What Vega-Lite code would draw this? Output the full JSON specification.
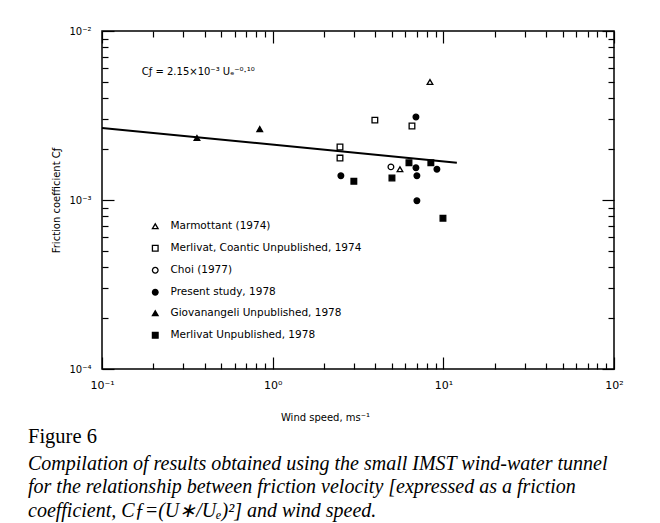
{
  "$schema": "https://vega.github.io/schema/vega-lite/v6.json",
  "width": 512,
  "height": 338,
  "autosize": "none",
  "padding": {"left": 102, "top": 31, "right": 46, "bottom": 154},
  "background": "white",
  "config": {
    "view": {"stroke": "black", "strokeWidth": 1.5},
    "font": "DejaVu Sans"
  },
  "datasets": {
    "fit": [
      {"u": 0.1, "cf": 0.00267},
      {"u": 12.0, "cf": 0.00166}
    ],
    "obs": [
      {"u": 8.35, "cf": 0.00499, "series": "Marmottant (1974)"},
      {"u": 5.57, "cf": 0.00152, "series": "Marmottant (1974)"},
      {"u": 2.48, "cf": 0.00206, "series": "Merlivat, Coantic Unpublished, 1974"},
      {"u": 2.48, "cf": 0.00177, "series": "Merlivat, Coantic Unpublished, 1974"},
      {"u": 3.97, "cf": 0.00297, "series": "Merlivat, Coantic Unpublished, 1974"},
      {"u": 6.55, "cf": 0.00274, "series": "Merlivat, Coantic Unpublished, 1974"},
      {"u": 4.93, "cf": 0.00157, "series": "Choi (1977)"},
      {"u": 2.51, "cf": 0.00139, "series": "Present study, 1978"},
      {"u": 6.91, "cf": 0.0031, "series": "Present study, 1978"},
      {"u": 6.91, "cf": 0.00155, "series": "Present study, 1978"},
      {"u": 7.0, "cf": 0.00139, "series": "Present study, 1978"},
      {"u": 7.0, "cf": 0.00099, "series": "Present study, 1978"},
      {"u": 9.17, "cf": 0.00152, "series": "Present study, 1978"},
      {"u": 0.36, "cf": 0.00233, "series": "Giovanangeli Unpublished, 1978"},
      {"u": 0.84, "cf": 0.00263, "series": "Giovanangeli Unpublished, 1978"},
      {"u": 2.99, "cf": 0.00129, "series": "Merlivat Unpublished, 1978"},
      {"u": 5.0, "cf": 0.00135, "series": "Merlivat Unpublished, 1978"},
      {"u": 6.29, "cf": 0.00166, "series": "Merlivat Unpublished, 1978"},
      {"u": 8.45, "cf": 0.00166, "series": "Merlivat Unpublished, 1978"},
      {"u": 9.95, "cf": 0.00078, "series": "Merlivat Unpublished, 1978"}
    ],
    "note": [
      {"u": 0.171, "cf": 0.0057, "label": "Cƒ = 2.15×10⁻³ Uₑ⁻⁰·¹⁰"}
    ]
  },
  "title": {
    "text": "Figure 6",
    "subtitle": [
      "Compilation of results obtained using the small IMST wind-water tunnel",
      "for the relationship between friction velocity [expressed as a friction",
      "coefficient, Cƒ=(U∗/Uₑ)²] and wind speed."
    ],
    "orient": "bottom",
    "anchor": "start",
    "frame": "group",
    "dx": -74,
    "offset": 5,
    "font": "Liberation Serif",
    "fontSize": 20.5,
    "fontWeight": "normal",
    "color": "black",
    "subtitleFont": "Liberation Serif",
    "subtitleFontSize": 20,
    "subtitleFontStyle": "italic",
    "subtitleColor": "black",
    "subtitleLineHeight": 23.5,
    "subtitlePadding": 6
  },
  "resolve": {"axis": {"x": "independent", "y": "independent"}},
  "layer": [
    {
      "data": {"name": "fit"},
      "mark": {"type": "line", "color": "black", "strokeWidth": 2},
      "encoding": {
        "x": {
          "field": "u", "type": "quantitative",
          "scale": {"type": "log", "domain": [0.1, 100], "nice": false},
          "axis": {
            "orient": "bottom",
            "values": [0.1,0.2,0.3,0.4,0.5,0.6,0.7,0.8,0.9,1,2,3,4,5,6,7,8,9,10,20,30,40,50,60,70,80,90,100],
            "labelExpr": "datum.value == 0.1 ? '10⁻¹' : datum.value == 1 ? '10⁰' : datum.value == 10 ? '10¹' : datum.value == 100 ? '10²' : ''",
            "labelOverlap": false,
            "labelFlush": false,
            "labelFont": "DejaVu Sans",
            "labelFontSize": 11,
            "labelColor": "black",
            "labelPadding": 22,
            "domain": false,
            "grid": false,
            "tickColor": "black",
            "tickWidth": 1.2,
            "tickSize": {"condition": {"test": "datum.value == 0.1 || datum.value == 1 || datum.value == 10 || datum.value == 100", "value": -12}, "value": -6},
            "title": "Wind speed,  ms⁻¹",
            "titleFont": "DejaVu Sans",
            "titleFontSize": 10,
            "titleFontWeight": "normal",
            "titleColor": "black",
            "titleX": 223,
            "titlePadding": 16
          }
        },
        "y": {
          "field": "cf", "type": "quantitative",
          "scale": {"type": "log", "domain": [0.0001, 0.01], "nice": false},
          "axis": {
            "orient": "left",
            "values": [0.0001,0.0002,0.0003,0.0004,0.0005,0.0006,0.0007,0.0008,0.0009,0.001,0.002,0.003,0.004,0.005,0.006,0.007,0.008,0.009,0.01],
            "labelExpr": "datum.value == 0.0001 ? '10⁻⁴' : datum.value == 0.001 ? '10⁻³' : datum.value == 0.01 ? '10⁻²' : ''",
            "labelOverlap": false,
            "labelFlush": false,
            "labelFont": "DejaVu Sans",
            "labelFontSize": 10,
            "labelColor": "black",
            "labelPadding": 23,
            "domain": false,
            "grid": false,
            "tickColor": "black",
            "tickWidth": 1.2,
            "tickSize": {"condition": {"test": "datum.value == 0.0001 || datum.value == 0.001 || datum.value == 0.01", "value": -12}, "value": -6},
            "title": "Friction  coefficient   Cƒ",
            "titleFont": "DejaVu Sans",
            "titleFontSize": 10,
            "titleFontWeight": "normal",
            "titleColor": "black",
            "titleX": -41
          }
        }
      }
    },
    {
      "data": {"name": "obs"},
      "mark": {"type": "point", "filled": false, "strokeWidth": 1.3, "size": 32, "opacity": 1},
      "encoding": {
        "x": {"field": "u", "type": "quantitative", "axis": null},
        "y": {"field": "cf", "type": "quantitative", "axis": null},
        "shape": {
          "field": "series", "type": "nominal",
          "scale": {
            "domain": ["Marmottant (1974)", "Merlivat, Coantic Unpublished, 1974", "Choi (1977)", "Present study, 1978", "Giovanangeli Unpublished, 1978", "Merlivat Unpublished, 1978"],
            "range": ["triangle-up", "square", "circle", "circle", "triangle-up", "square"]
          },
          "legend": {
            "title": null,
            "orient": "none",
            "legendX": 48,
            "legendY": 190,
            "padding": 0,
            "labelFont": "DejaVu Sans",
            "labelFontSize": 10.5,
            "labelColor": "black",
            "labelOffset": 10,
            "labelLimit": 400,
            "symbolSize": 32,
            "symbolStrokeWidth": 1.3,
            "rowPadding": 10
          }
        },
        "fill": {
          "field": "series", "type": "nominal",
          "scale": {
            "domain": ["Marmottant (1974)", "Merlivat, Coantic Unpublished, 1974", "Choi (1977)", "Present study, 1978", "Giovanangeli Unpublished, 1978", "Merlivat Unpublished, 1978"],
            "range": ["white", "white", "white", "black", "black", "black"]
          },
          "legend": {
            "title": null,
            "orient": "none",
            "legendX": 48,
            "legendY": 190,
            "padding": 0,
            "labelFont": "DejaVu Sans",
            "labelFontSize": 10.5,
            "labelColor": "black",
            "labelOffset": 10,
            "labelLimit": 400,
            "symbolSize": 32,
            "symbolStrokeWidth": 1.3,
            "rowPadding": 10
          }
        },
        "stroke": {
          "field": "series", "type": "nominal",
          "scale": {
            "domain": ["Marmottant (1974)", "Merlivat, Coantic Unpublished, 1974", "Choi (1977)", "Present study, 1978", "Giovanangeli Unpublished, 1978", "Merlivat Unpublished, 1978"],
            "range": ["black", "black", "black", "black", "black", "black"]
          },
          "legend": {
            "title": null,
            "orient": "none",
            "legendX": 48,
            "legendY": 190,
            "padding": 0,
            "labelFont": "DejaVu Sans",
            "labelFontSize": 10.5,
            "labelColor": "black",
            "labelOffset": 10,
            "labelLimit": 400,
            "symbolSize": 32,
            "symbolStrokeWidth": 1.3,
            "rowPadding": 10
          }
        }
      }
    },
    {
      "data": {"name": "note"},
      "mark": {"type": "text", "align": "left", "baseline": "middle", "font": "DejaVu Sans", "fontSize": 10, "color": "black"},
      "encoding": {
        "x": {
          "field": "u", "type": "quantitative",
          "axis": {
            "orient": "top",
            "values": [0.1,0.2,0.3,0.4,0.5,0.6,0.7,0.8,0.9,1,2,3,4,5,6,7,8,9,10,20,30,40,50,60,70,80,90,100],
            "labels": false,
            "domain": false,
            "grid": false,
            "title": null,
            "tickColor": "black",
            "tickWidth": 1.2,
            "tickSize": {"condition": {"test": "datum.value == 0.1 || datum.value == 1 || datum.value == 10 || datum.value == 100", "value": -12}, "value": -6}
          }
        },
        "y": {
          "field": "cf", "type": "quantitative",
          "axis": {
            "orient": "right",
            "values": [0.0001,0.0002,0.0003,0.0004,0.0005,0.0006,0.0007,0.0008,0.0009,0.001,0.002,0.003,0.004,0.005,0.006,0.007,0.008,0.009,0.01],
            "labels": false,
            "domain": false,
            "grid": false,
            "title": null,
            "tickColor": "black",
            "tickWidth": 1.2,
            "tickSize": {"condition": {"test": "datum.value == 0.0001 || datum.value == 0.001 || datum.value == 0.01", "value": -12}, "value": -6}
          }
        },
        "text": {"field": "label"}
      }
    }
  ]
}
